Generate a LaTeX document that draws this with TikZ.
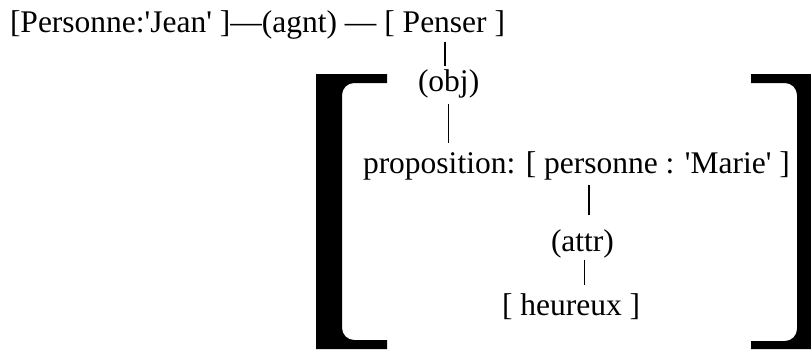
\documentclass[tikz,border=0pt]{standalone}
\usepackage{fontspec}
\newfontfamily\cgfont{Liberation Serif}
\begin{document}
\begin{tikzpicture}[x=1pt,y=-1pt,
  every node/.style={inner sep=0pt, outer sep=0pt, font=\cgfont\fontsize{31.5}{37}\selectfont},
  lbl/.style={anchor=base west},
  link/.style={line width=1.7pt},
  bracket/.style={fill=black}]
\useasboundingbox (0,0) rectangle (811,349);
\fill[white] (0,0) rectangle (811,349);
% top line
\node[lbl] (jean) at (10,32) {[Personne:'Jean' ]};
\node[lbl] (d1) at (jean.base east) {—};
\node[lbl] (agnt) at (d1.base east) {(agnt)};
\node[lbl] (d2) at (agnt.base east) {~—\kern0.25em};
\node[lbl] (penser) at (d2.base east) {[ Penser ]};
% relations
\node[lbl] (obj) at (418,91) {(obj)};
\node[lbl] (prop) at (363,173) {proposition: [\kern0.25em};
\node[lbl] (pers) at (prop.base east) {personne};
\node[lbl] (marie) at (pers.base east) {~: 'Marie' ]};
\node[lbl] (attr) at (551,251) {(attr)};
\node[lbl] (heur) at (502,315) {[ heureux ]};
% connectors
\draw[link] ([yshift=-6pt]penser.south) -- ([yshift=3pt]penser.south |- obj.north);
\draw[link] ([yshift=-6pt]obj.south) -- ([yshift=8pt]obj.south |- prop.north);
\draw[link] ([yshift=-5pt,xshift=-12pt]pers.south) -- ([yshift=14pt,xshift=-12pt]pers.south |- attr.north);
\draw[link] ([yshift=-2pt,xshift=2pt]attr.south) -- ([yshift=8pt,xshift=2pt]attr.south |- heur.north);
% big brackets
\fill[bracket] (316,74) -- (387,74) -- (387,83) -- (354,83)
  .. controls (347.4,83) and (342,88.4) .. (342,95) -- (342,328)
  .. controls (342,334.6) and (347.4,340) .. (354,340) -- (387,340)
  -- (387,349) -- (316,349) -- cycle;
\fill[bracket] (751,74) -- (811,74) -- (811,349) -- (751,349) -- (751,341)
  -- (785,341) .. controls (791.6,341) and (797,335.6) .. (797,329)
  -- (797,95) .. controls (797,88.4) and (791.6,83) .. (785,83)
  -- (751,83) -- cycle;
\end{tikzpicture}
\end{document}
